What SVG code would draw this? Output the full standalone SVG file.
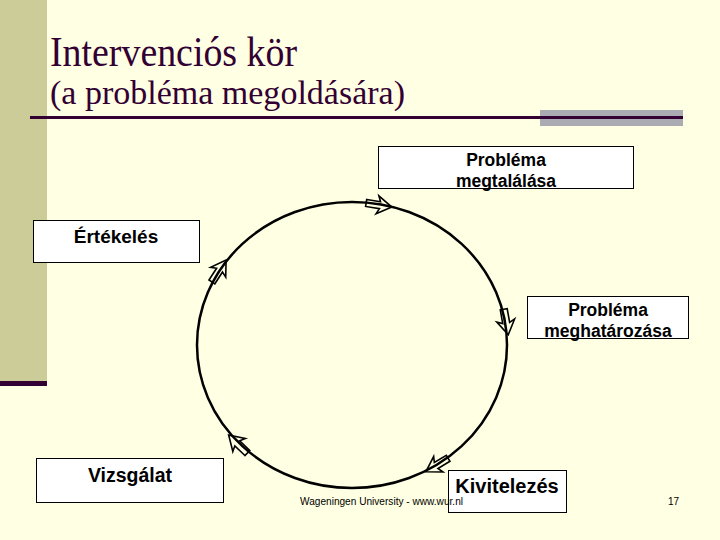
<svg xmlns="http://www.w3.org/2000/svg" width="720" height="540" viewBox="0 0 720 540">
  <defs>
    <style>
      .box { fill: #FFFFFF; stroke: #000000; stroke-width: 1; }
      .lbl { font-family: "Liberation Sans", Arial, sans-serif; font-weight: bold; fill: #000000; text-anchor: middle; }
      .arr { fill: none; stroke: #000000; stroke-width: 1.6; stroke-linejoin: miter; }
      .foot { font-family: "Liberation Sans", Arial, sans-serif; font-size: 10px; fill: #000000; }
    </style>
    <path id="blk" d="M-13,-3.5 H1 L-1.5,-9 L13,0 L-1.5,9 L1,3.5 H-13 Z"/>
  </defs>

  <rect x="0" y="0" width="720" height="540" fill="#FFFFE3"/>
  <rect x="0" y="0" width="47" height="382" fill="#CCCC99"/>
  <rect x="0" y="381" width="47" height="5" fill="#330033"/>

  <text x="50" y="66" font-family="'Liberation Serif', 'Times New Roman', serif" font-size="43" fill="#330033" textLength="247" lengthAdjust="spacingAndGlyphs">Intervenciós kör</text>
  <text x="50" y="104" font-family="'Liberation Serif', 'Times New Roman', serif" font-size="34" fill="#330033" textLength="355" lengthAdjust="spacingAndGlyphs">(a probléma megoldására)</text>
  <rect x="540" y="110" width="143" height="16" fill="#ABABB3"/>
  <line x1="30" y1="117.5" x2="683" y2="117.5" stroke="#330033" stroke-width="3"/>

  <g id="connectors">
    <ellipse cx="352" cy="345" rx="155" ry="143" fill="none" stroke="#000000" stroke-width="2.5"/>
    <use href="#blk" class="arr" transform="translate(379,205) rotate(9)"/>
    <use href="#blk" class="arr" transform="translate(506,322) rotate(80)"/>
    <use href="#blk" class="arr" transform="translate(437,465) rotate(149)"/>
    <use href="#blk" class="arr" transform="translate(238,444) rotate(224)"/>
    <use href="#blk" class="arr" transform="translate(219,271) rotate(-57)"/>
  </g>

  <g id="node-megtalalasa">
    <rect class="box" x="378.5" y="146.5" width="255" height="42"/>
    <text class="lbl" x="506" y="166" font-size="17.5">Probléma</text>
    <text class="lbl" x="506" y="187" font-size="17.5">megtalálása</text>
  </g>
  <g id="node-ertekeles">
    <rect class="box" x="33.5" y="220.5" width="166" height="42"/>
    <text class="lbl" x="116" y="243" font-size="19">Értékelés</text>
  </g>
  <g id="node-meghatarozasa">
    <rect class="box" x="527.5" y="296.5" width="161" height="42"/>
    <text class="lbl" x="608" y="316" font-size="17.5">Probléma</text>
    <text class="lbl" x="608" y="337" font-size="17.5">meghatározása</text>
  </g>
  <g id="node-vizsgalat">
    <rect class="box" x="36.5" y="458.5" width="187" height="44"/>
    <text class="lbl" x="130" y="482" font-size="19.5">Vizsgálat</text>
  </g>
  <g id="node-kivitelezes">
    <rect class="box" x="448.5" y="470.5" width="118" height="42"/>
    <text class="lbl" x="507" y="493" font-size="20">Kivitelezés</text>
  </g>

  <text class="foot" x="300" y="505" textLength="163" lengthAdjust="spacingAndGlyphs">Wageningen University - www.wur.nl</text>
  <text class="foot" x="668" y="505">17</text>
</svg>
